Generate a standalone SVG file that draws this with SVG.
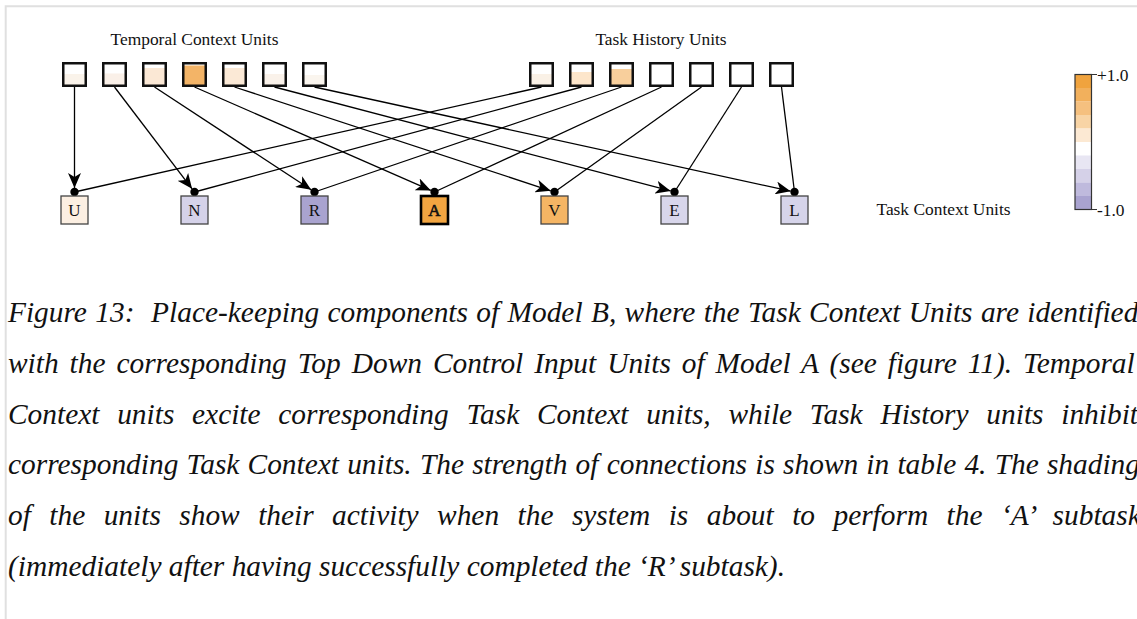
<svg xmlns="http://www.w3.org/2000/svg" width="1137" height="619" viewBox="0 0 1137 619">
<style>
.bg{fill:#fff}
.border{fill:none;stroke:#e0e0e0;stroke-width:2}
.lbl{font-family:"Liberation Serif","Times New Roman",serif;font-size:17.4px;fill:#111}
.unit{fill:none;stroke:#111;stroke-width:2.5}
.tcu{stroke:#444;stroke-width:1.3}
.tcu-act{stroke:#000;stroke-width:2.6}
.let{font-family:"Liberation Serif","Times New Roman",serif;font-size:17px;fill:#111;text-anchor:middle}
.exc{fill:none;stroke:#000;stroke-width:1.3;marker-end:url(#arrow)}
.inh{fill:none;stroke:#000;stroke-width:1.3;marker-end:url(#dot)}
.cap{font-family:"Liberation Serif","Times New Roman",serif;font-style:italic;font-size:29.4px;fill:#111}
.seg{stroke:none}
</style>
<defs>
<marker id="arrow" markerUnits="userSpaceOnUse" markerWidth="16" markerHeight="13" viewBox="0 0 16 13" refX="15" refY="6.5" orient="auto"><path d="M0,0 L15,6.5 L0,13 L4,6.5 z" fill="#000"/></marker>
<marker id="dot" markerUnits="userSpaceOnUse" markerWidth="10" markerHeight="10" viewBox="0 0 10 10" refX="5" refY="5"><circle cx="5" cy="5" r="4.2" fill="#000"/></marker>
</defs>
<rect class="bg" x="0" y="0" width="1137" height="619"/>
<path class="border" d="M5.7,619 V6.3 H1137"/>

<text class="lbl" x="194.5" y="44.5" text-anchor="middle">Temporal Context Units</text>
<text class="lbl" x="661" y="44.5" text-anchor="middle">Task History Units</text>
<text class="lbl" x="943.5" y="215" text-anchor="middle">Task Context Units</text>

<g id="connectors">
<path class="exc" d="M74.5,87 L74.5,188"/>
<path class="exc" d="M114.5,87 L192.06,188.83"/>
<path class="exc" d="M154.5,87 L311.15,189.82"/>
<path class="exc" d="M194.5,87 L430.83,190.41"/>
<path class="exc" d="M234.5,87 L550.70,190.76"/>
<path class="exc" d="M274.5,87 L670.63,190.99"/>
<path class="exc" d="M314.5,87 L790.59,191.15"/>
<path class="inh" d="M541.5,87 L74.5,192"/>
<path class="inh" d="M581.5,87 L194.5,192"/>
<path class="inh" d="M621.5,87 L314.5,192"/>
<path class="inh" d="M661.5,87 L434.5,192"/>
<path class="inh" d="M701.5,87 L554.5,192"/>
<path class="inh" d="M741.5,87 L674.5,192"/>
<path class="inh" d="M781.5,87 L794.5,192"/>
</g>

<g id="temporal-1"><rect x="63.25" y="74" width="22.5" height="11.5" fill="#faf3ea"/><rect class="unit" x="63.25" y="63.25" width="22.5" height="22.5"/></g>
<g id="temporal-2"><rect x="103.25" y="73.5" width="22.5" height="12" fill="#faf0e8"/><rect class="unit" x="103.25" y="63.25" width="22.5" height="22.5"/></g>
<g id="temporal-3"><rect x="143.25" y="68" width="22.5" height="17.5" fill="#fbe8d5"/><rect class="unit" x="143.25" y="63.25" width="22.5" height="22.5"/></g>
<g id="temporal-4"><rect x="183.25" y="65.5" width="22.5" height="20" fill="#f3b467"/><rect class="unit" x="183.25" y="63.25" width="22.5" height="22.5"/></g>
<g id="temporal-5"><rect x="223.25" y="68" width="22.5" height="17.5" fill="#fbe9d6"/><rect class="unit" x="223.25" y="63.25" width="22.5" height="22.5"/></g>
<g id="temporal-6"><rect x="263.25" y="74" width="22.5" height="11.5" fill="#faf2ea"/><rect class="unit" x="263.25" y="63.25" width="22.5" height="22.5"/></g>
<g id="temporal-7"><rect x="303.25" y="75" width="22.5" height="10.5" fill="#faf5ee"/><rect class="unit" x="303.25" y="63.25" width="22.5" height="22.5"/></g>

<g id="history-1"><rect x="530.25" y="74" width="22.5" height="11.5" fill="#faf1e6"/><rect class="unit" x="530.25" y="63.25" width="22.5" height="22.5"/></g>
<g id="history-2"><rect x="570.25" y="72" width="22.5" height="13.5" fill="#fde6cb"/><rect class="unit" x="570.25" y="63.25" width="22.5" height="22.5"/></g>
<g id="history-3"><rect x="610.25" y="69" width="22.5" height="16.5" fill="#f8cf9c"/><rect class="unit" x="610.25" y="63.25" width="22.5" height="22.5"/></g>
<g id="history-4"><rect class="unit" x="650.25" y="63.25" width="22.5" height="22.5"/></g>
<g id="history-5"><rect class="unit" x="690.25" y="63.25" width="22.5" height="22.5"/></g>
<g id="history-6"><rect class="unit" x="730.25" y="63.25" width="22.5" height="22.5"/></g>
<g id="history-7"><rect class="unit" x="770.25" y="63.25" width="22.5" height="22.5"/></g>

<g id="task-U"><rect class="tcu" x="61" y="196" width="27" height="28" fill="#fcefe2"/><text class="let" x="74.5" y="216">U</text></g>
<g id="task-N"><rect class="tcu" x="181" y="196" width="27" height="28" fill="#d5d2e9"/><text class="let" x="194.5" y="216">N</text></g>
<g id="task-R"><rect class="tcu" x="301" y="196" width="27" height="28" fill="#a9a3cf"/><text class="let" x="314.5" y="216">R</text></g>
<g id="task-A"><rect class="tcu-act" x="421" y="196" width="27" height="28" fill="#f2a541"/><text class="let" x="434.5" y="216" fill="#fff" stroke="#111" stroke-width="0.6">A</text></g>
<g id="task-V"><rect class="tcu" x="541" y="196" width="27" height="28" fill="#f5b564"/><text class="let" x="554.5" y="216">V</text></g>
<g id="task-E"><rect class="tcu" x="661" y="196" width="27" height="28" fill="#d8d6eb"/><text class="let" x="674.5" y="216">E</text></g>
<g id="task-L"><rect class="tcu" x="781" y="196" width="27" height="28" fill="#d6d4ea"/><text class="let" x="794.5" y="216">L</text></g>

<g id="colorbar">
<rect class="seg" x="1075" y="74.5" width="16.5" height="13.6" fill="#f0a33e"/>
<rect class="seg" x="1075" y="88" width="16.5" height="13.6" fill="#f2b05c"/>
<rect class="seg" x="1075" y="101.5" width="16.5" height="13.6" fill="#f5c07f"/>
<rect class="seg" x="1075" y="115" width="16.5" height="13.6" fill="#f8d4a5"/>
<rect class="seg" x="1075" y="128.5" width="16.5" height="13.6" fill="#fce9d3"/>
<rect class="seg" x="1075" y="142" width="16.5" height="13.6" fill="#ffffff"/>
<rect class="seg" x="1075" y="155.5" width="16.5" height="13.6" fill="#e8e6f3"/>
<rect class="seg" x="1075" y="169" width="16.5" height="13.6" fill="#d5d1e8"/>
<rect class="seg" x="1075" y="182.5" width="16.5" height="13.6" fill="#bfbadd"/>
<rect class="seg" x="1075" y="196" width="16.5" height="13.5" fill="#a9a3d0"/>
<rect x="1075" y="74.5" width="16.5" height="135" fill="none" stroke="#333" stroke-width="1.2"/>
<path d="M1091.5,74.5 H1097 M1091.5,209.5 H1097" stroke="#333" stroke-width="1.2"/>
<text class="lbl" x="1097" y="80.5" font-size="17">+1.0</text>
<text class="lbl" x="1097" y="215.5" font-size="17">-1.0</text>
</g>

<g id="caption">
<text class="cap" x="8" y="322" xml:space="preserve" word-spacing="1.0">Figure 13:  Place-keeping components of Model B, where the Task Context Units are identified</text>
<text class="cap" x="8" y="373" word-spacing="3.6">with the corresponding Top Down Control Input Units of Model A (see figure 11). Temporal</text>
<text class="cap" x="8" y="423.5" word-spacing="10.4">Context units excite corresponding Task Context units, while Task History units inhibit</text>
<text class="cap" x="8" y="474" word-spacing="0.85">corresponding Task Context units. The strength of connections is shown in table 4. The shading</text>
<text class="cap" x="8" y="525" word-spacing="11.1">of the units show their activity when the system is about to perform the ‘A’ subtask</text>
<text class="cap" x="8" y="575.5">(immediately after having successfully completed the ‘R’ subtask).</text>
</g>
</svg>
